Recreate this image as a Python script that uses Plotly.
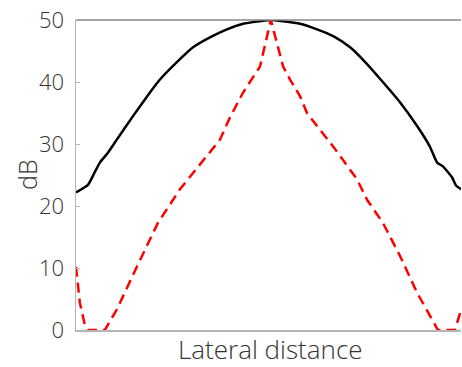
import plotly.graph_objects as go

# Lateral distance (normalized 0..100) and dB values
x_black = [0, 3.1, 4.9, 6.2, 8.3, 10.6, 14.8, 19.2, 21.8, 26.2, 30.4, 34.8, 39.2, 43.4, 47.8, 50.6,
           53.8, 58.2, 62.6, 66.8, 71.2, 75.6, 79.7, 84.2, 88.6, 91.9, 93.8, 95.3, 97.7, 98.7, 100]
y_black = [22.2, 23.4, 25.5, 27.0, 28.6, 30.7, 34.5, 38.3, 40.4, 43.2, 45.6, 47.2, 48.5, 49.4, 49.8, 50.0,
           49.8, 49.4, 48.5, 47.4, 45.6, 42.9, 40.0, 36.7, 32.9, 29.6, 27.0, 26.4, 24.6, 23.3, 22.7]

x_red = [0, 1, 2.3, 3.1, 7.5, 10.6, 15.8, 21.3, 27, 32.2, 37.4, 40, 43.4, 47.8, 50.6,
         53.8, 55.6, 58.2, 60, 62.6, 66.8, 73, 75.6, 79.7, 84.2, 88.6, 92.5, 94, 98.4, 100]
y_red = [10.2, 4.4, 0.8, 0, 0, 3.3, 10.2, 17.3, 22.7, 26.7, 30.7, 34.3, 38.3, 42.5, 50.0,
         42.5, 40.4, 37.7, 35.0, 32.9, 29.6, 24.3, 21.0, 17.3, 11.9, 6.0, 1.7, 0, 0, 3.2]

y_ticks = [0, 10, 20, 30, 40, 50]
x_title = "Lateral distance"
y_title = "dB"

FONT = "Open Sans"
TXT = "#333333"

fig = go.Figure()
fig.add_trace(go.Scatter(x=x_black, y=y_black, mode="lines",
                         line=dict(color="black", width=2.5, shape="spline", smoothing=0.5),
                         hoverinfo="skip", showlegend=False))
fig.add_trace(go.Scatter(x=x_red, y=y_red, mode="lines",
                         line=dict(color="#ff0000", width=2.5, dash="10px,6px"),
                         hoverinfo="skip", showlegend=False))

fig.update_layout(
    width=462, height=367,
    margin=dict(l=76, r=1, t=20, b=37, autoexpand=False),
    paper_bgcolor="white", plot_bgcolor="white",
    font=dict(family=FONT, color=TXT, size=22, weight=300),
    xaxis=dict(range=[0, 100], showticklabels=False, ticks="", showgrid=False, zeroline=False,
               showline=True, linecolor="#b5b5b5", linewidth=1.5, automargin=False),
    yaxis=dict(range=[0, 50], tickvals=y_ticks, ticks="inside", ticklen=4, tickcolor="#b5b5b5",
               showgrid=False, zeroline=False, showline=True, linecolor="#b5b5b5", linewidth=1.5,
               automargin=False, ticklabelstandoff=6, ticklabeloverflow="allow",
               tickfont=dict(size=22, family=FONT, color=TXT, weight=300)),
    shapes=[dict(type="line", xref="paper", yref="paper", x0=0, x1=1, y0=1, y1=1,
                 line=dict(color="#888888", width=1.5))],
    annotations=[
        dict(text=x_title, xref="paper", yref="paper", x=0.505, y=-19 / 310,
             xanchor="center", yanchor="middle", showarrow=False,
             font=dict(size=26, family=FONT, color=TXT, weight=300)),
        dict(text=y_title, xref="paper", yref="paper", x=-49 / 385, y=0.5,
             xanchor="center", yanchor="middle", showarrow=False, textangle=-90,
             font=dict(size=25, family=FONT, color=TXT, weight=300)),
    ],
)

# remove the page's default body margin so the figure sits at the window's top-left corner
fig.write_html("out.html", config={"displayModeBar": False, "staticPlot": True},
               post_script="document.body.style.margin='0px';document.body.style.overflow='hidden';")
